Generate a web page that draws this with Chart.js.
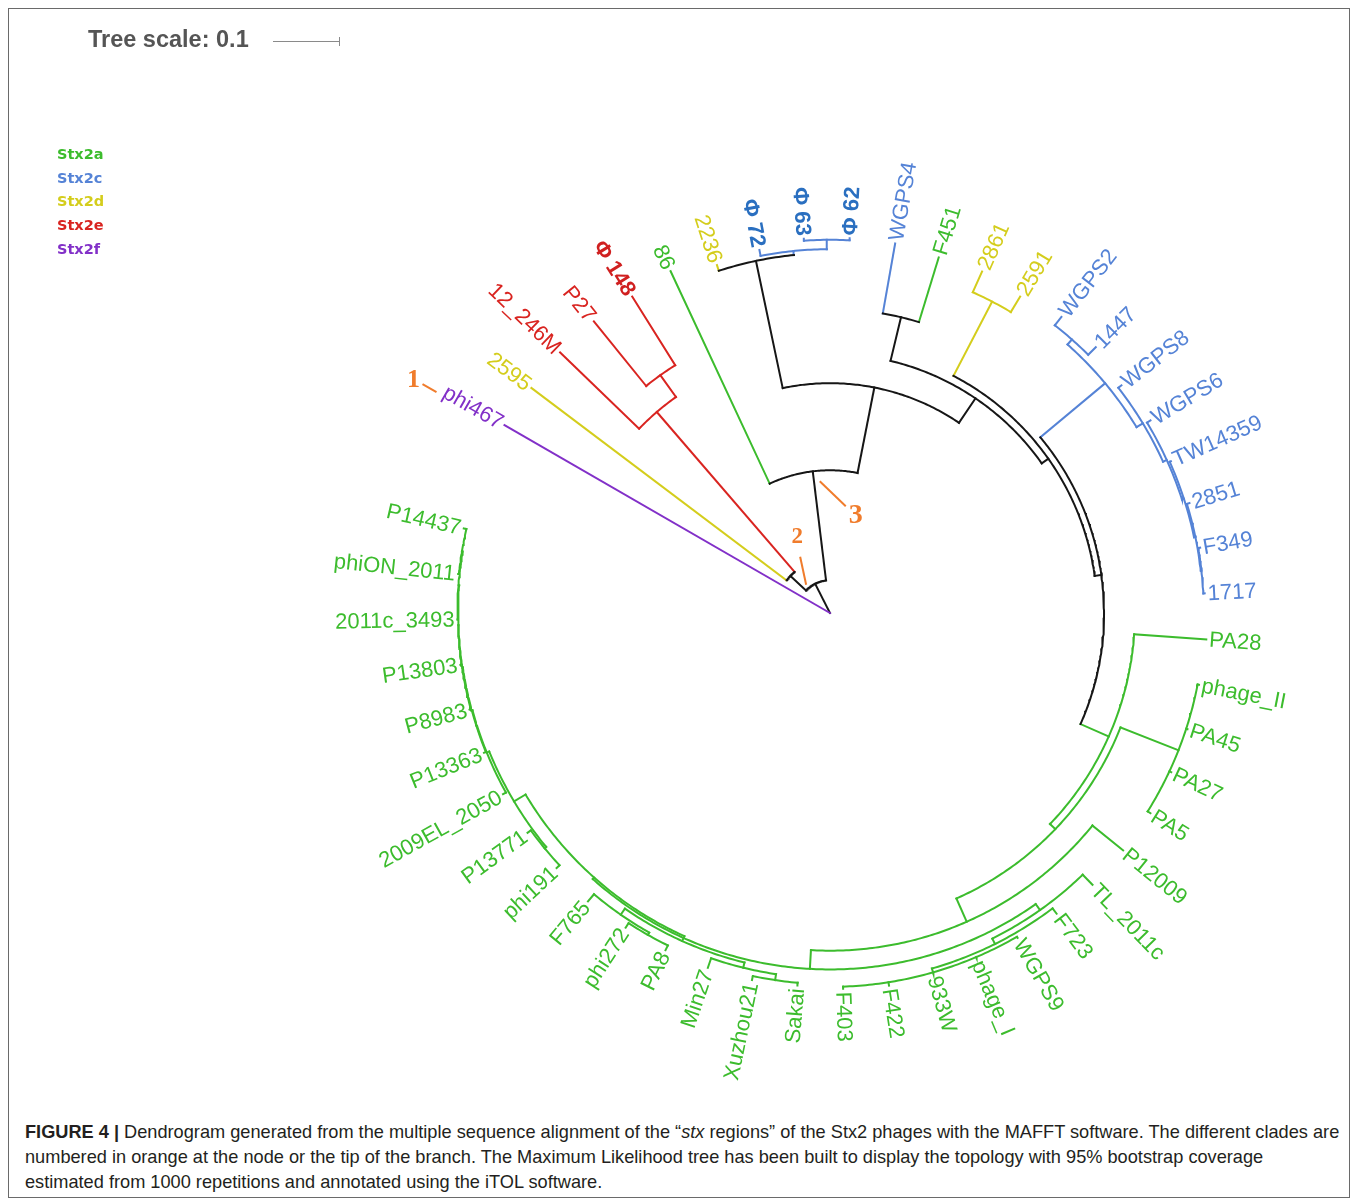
<!DOCTYPE html>
<html>
<head>
<meta charset="utf-8">
<script src="https://cdn.jsdelivr.net/npm/chart.js@4.4.1/dist/chart.umd.min.js"></script>
<style>
  html, body { margin: 0; padding: 0; background: #fff; }
  #fig { position: relative; width: 1358px; height: 1199px; overflow: hidden; }
  #frame { position: absolute; left: 8px; top: 8px; width: 1342px; height: 1190px; border: 1.5px solid #6a6a6a; box-sizing: border-box; }
  #plot { position: absolute; left: 0; top: 0; }
  #caption { position: absolute; left: 25px; top: 1120px; font: 18.2px "Liberation Sans", Arial, sans-serif; line-height: 25px; color: #231f20; white-space: nowrap; }
  #caption b { font-weight: bold; }
</style>
</head>
<body>
<div id="fig">
  <div id="frame"></div>
  <canvas id="plot" width="1358" height="1100"></canvas>
  <div id="caption">
    <b>FIGURE 4 |</b> Dendrogram generated from the multiple sequence alignment of the “<i>stx</i> regions” of the Stx2 phages with the MAFFT software. The different clades are<br>
    numbered in orange at the node or the tip of the branch. The Maximum Likelihood tree has been built to display the topology with 95% bootstrap coverage<br>
    estimated from 1000 repetitions and annotated using the iTOL software.
  </div>
</div>
<script>
// ---- Leaves, in clockwise display order ----
const leafNames = ['phi467','2595','12_246M','P27','Φ 148','86','2236','Φ 72','Φ 63','Φ 62',
  'WGPS4','F451','2861','2591','WGPS2','1447','WGPS8','WGPS6','TW14359','2851',
  'F349','1717','PA28','phage_II','PA45','PA27','PA5','P12009','TL_2011c','F723',
  'WGPS9','phage_I','933W','F422','F403','Sakai','Xuzhou21','Min27','PA8','phi272',
  'F765','phi191','P13771','2009EL_2050','P13363','P8983','P13803','2011c_3493','phiON_2011','P14437'];

const leafClade = ['Stx2f','Stx2d','Stx2e','Stx2e','Stx2e','Stx2a','Stx2d','Stx2c','Stx2c','Stx2c',
  'Stx2c','Stx2a','Stx2d','Stx2d','Stx2c','Stx2c','Stx2c','Stx2c','Stx2c','Stx2c',
  'Stx2c','Stx2c','Stx2a','Stx2a','Stx2a','Stx2a','Stx2a','Stx2a','Stx2a','Stx2a',
  'Stx2a','Stx2a','Stx2a','Stx2a','Stx2a','Stx2a','Stx2a','Stx2a','Stx2a','Stx2a',
  'Stx2a','Stx2a','Stx2a','Stx2a','Stx2a','Stx2a','Stx2a','Stx2a','Stx2a','Stx2a'];

// distance of each tip from the root (substitutions per site)
const leafDepth = [0.561,0.558,0.560,0.560,0.557,0.563,0.546,0.552,0.560,0.560,
  0.560,0.555,0.558,0.551,0.561,0.561,0.552,0.558,0.557,0.561,
  0.561,0.560,0.563,0.561,0.561,0.562,0.564,0.563,0.564,0.562,
  0.560,0.560,0.560,0.563,0.561,0.558,0.560,0.560,0.560,0.560,
  0.562,0.558,0.558,0.558,0.557,0.557,0.557,0.556,0.558,0.561];

// ---- Internal nodes ----
const nodeIds = ['root','A','B','C','D','E','F','G','I','J','H','L','K','M','N',
  'O','O1','O2','O3','O4','O5','O6','P','T','S','U','V','X','X2','Z',
  'Y','Y1','FG','FP','SG','SX','W','WA','WB','WC','WD','WE','WF','WG'];

const nodeChildren = [
  ['phi467','A'], ['B','E'], ['2595','C'], ['12_246M','D'], ['P27','Φ 148'],
  ['86','F'], ['G','H'], ['2236','I'], ['Φ 72','J'], ['Φ 63','Φ 62'],
  ['L','K'], ['WGPS4','F451'], ['M','N'], ['2861','2591'], ['O','P'],
  ['O1','O2'], ['WGPS2','1447'], ['WGPS8','O3'], ['WGPS6','O4'], ['TW14359','O5'],
  ['2851','O6'], ['F349','1717'], ['PA28','T'], ['S','U'], ['phage_II','PA45','PA27','PA5'],
  ['P12009','V'], ['X','Y'], ['TL_2011c','X2'], ['F723','Z'], ['WGPS9','phage_I','933W','F422','F403'],
  ['Y1','W'], ['SG','FG'], ['FP','F765'], ['PA8','phi272'], ['SX','Min27'],
  ['Sakai','Xuzhou21'], ['WA','WB'], ['phi191','P13771'], ['2009EL_2050','WC'], ['P13363','WD'],
  ['P8983','WE'], ['P13803','WF'], ['2011c_3493','WG'], ['phiON_2011','P14437']
];

const nodeDepth = [0.000,0.049,0.081,0.396,0.436,0.213,0.343,0.537,0.543,0.557,
  0.387,0.454,0.399,0.524,0.409,
  0.535,0.545,0.546,0.552,0.555,0.557,0.558,0.455,0.466,0.559,
  0.504,0.532,0.543,0.552,0.558,
  0.529,0.537,0.548,0.552,0.545,0.554,0.549,0.552,0.553,0.554,
  0.555,0.555,0.556,0.557];

// ---- Legend / clade colours ----
const cladeNames = ['Stx2a','Stx2c','Stx2d','Stx2e','Stx2f'];
const cladeColors = ['#3cbc2d','#5583d6','#d4cd1c','#d92420','#8230c8'];

// clade numbers shown in orange: anchor element and offsets (px)
const cladeMarks = [
  { text: '1', anchor: 'phi467', size: 26, tx: -91, ty: -45, line: [-82, -41, -68, -33] },
  { text: '2', anchor: 'A',      size: 23, tx: -18, ty: -47, line: [-15, -27, -9, 1] },
  { text: '3', anchor: 'E',      size: 28, tx: 43,  ty: 44,  line: [7, 10, 33, 35] }
];

const treeScaleValue = 0.1;

// ---- layout ----
const PX_PER_UNIT = 670;          // canvas pixels per branch-length unit
const ROOT_PX = { x: 830, y: 613 }; // root position on the canvas
const CANVAS = { w: 1358, h: 1100 };
const START_ANGLE = 210, STEP_ANGLE = 7; // clockwise degrees from east

const byId = {};
leafNames.forEach((n, i) => { byId[n] = { leaf: true, idx: i, depth: leafDepth[i], clade: leafClade[i] }; });
nodeIds.forEach((id, i) => { byId[id] = { leaf: false, children: nodeChildren[i], depth: nodeDepth[i] }; });

function angleOf(id) {
  const n = byId[id];
  if (n.angle !== undefined) return n.angle;
  if (n.leaf) n.angle = START_ANGLE + n.idx * STEP_ANGLE;
  else {
    const a = n.children.map(angleOf);
    n.angle = (Math.min(...a) + Math.max(...a)) / 2;
  }
  return n.angle;
}
function cladeOf(id) {
  const n = byId[id];
  if (n.cl !== undefined) return n.cl;
  if (n.leaf) n.cl = n.clade;
  else {
    const cs = n.children.map(cladeOf);
    n.cl = cs.every(c => c && c === cs[0]) ? cs[0] : null;
  }
  return n.cl;
}
function colorOf(id) {
  const c = cladeOf(id);
  return c ? cladeColors[cladeNames.indexOf(c)] : '#161616';
}
function polar(r, deg) {
  const t = deg * Math.PI / 180;
  return { x: r * Math.cos(t), y: -r * Math.sin(t) };
}

const datasets = [];
function addLine(points, color) {
  datasets.push({
    data: points, showLine: true, borderColor: color, backgroundColor: color,
    borderWidth: 2, pointRadius: 0, pointHoverRadius: 0, fill: false, tension: 0,
    borderCapStyle: 'square', borderJoinStyle: 'miter', clip: false
  });
}
nodeIds.forEach(id => {
  const n = byId[id];
  const angs = n.children.map(angleOf);
  const a0 = Math.min(...angs), a1 = Math.max(...angs);
  if (n.depth > 0) {
    const pts = [];
    const steps = Math.max(2, Math.ceil((a1 - a0) / 0.5));
    for (let k = 0; k <= steps; k++) pts.push(polar(n.depth, a0 + (a1 - a0) * k / steps));
    addLine(pts, colorOf(id));
  }
  n.children.forEach(c => {
    const a = angleOf(c);
    addLine([polar(n.depth, a), polar(byId[c].depth, a)], colorOf(c));
  });
});

const xMin = -ROOT_PX.x / PX_PER_UNIT, xMax = (CANVAS.w - ROOT_PX.x) / PX_PER_UNIT;
const yMax = ROOT_PX.y / PX_PER_UNIT, yMin = -(CANVAS.h - ROOT_PX.y) / PX_PER_UNIT;

function pixelOf(chart, id) {
  const n = byId[id];
  const p = polar(n.depth, angleOf(id));
  return { x: chart.scales.x.getPixelForValue(p.x), y: chart.scales.y.getPixelForValue(p.y) };
}

const decorations = {
  id: 'treeDecorations',
  afterDatasetsDraw(chart) {
    const ctx = chart.ctx;
    // leaf labels, written along the radius
    leafNames.forEach((name, i) => {
      const p = pixelOf(chart, name);
      const a = ((angleOf(name) % 360) + 360) % 360;
      const col = cladeColors[cladeNames.indexOf(leafClade[i])];
      const phi = name.startsWith('Φ');
      ctx.save();
      ctx.translate(p.x, p.y);
      ctx.fillStyle = phi ? (leafClade[i] === 'Stx2c' ? '#2a6fc0' : '#d02020') : col;
      ctx.font = (phi ? 'bold ' : '') + '22px "Liberation Sans", Arial, sans-serif';
      ctx.textBaseline = 'middle';
      if (a > 90 && a < 270) {
        ctx.rotate((a + 180) * Math.PI / 180);
        ctx.textAlign = 'right';
        ctx.fillText(name, -3, 1);
      } else {
        ctx.rotate(a * Math.PI / 180);
        ctx.textAlign = 'left';
        ctx.fillText(name, 3, 1);
      }
      ctx.restore();
    });

    // clade numbers
    cladeMarks.forEach(m => {
      const p = pixelOf(chart, m.anchor);
      ctx.save();
      ctx.strokeStyle = '#f07c2c';
      ctx.fillStyle = '#f07c2c';
      ctx.lineWidth = 2;
      ctx.beginPath();
      ctx.moveTo(p.x + m.line[0], p.y + m.line[1]);
      ctx.lineTo(p.x + m.line[2], p.y + m.line[3]);
      ctx.stroke();
      ctx.font = 'bold ' + m.size + 'px "Liberation Serif", "Times New Roman", serif';
      ctx.textAlign = 'center';
      ctx.textBaseline = 'middle';
      ctx.fillText(m.text, p.x + m.tx, p.y + m.ty);
      ctx.restore();
    });

    // tree scale
    ctx.save();
    ctx.font = 'bold 23.5px "Liberation Sans", Arial, sans-serif';
    ctx.fillStyle = '#555';
    ctx.textBaseline = 'middle';
    ctx.textAlign = 'left';
    ctx.fillText('Tree scale: ' + treeScaleValue, 88, 41);
    const len = chart.scales.x.getPixelForValue(treeScaleValue) - chart.scales.x.getPixelForValue(0);
    ctx.strokeStyle = '#8a8a8a';
    ctx.lineWidth = 1;
    ctx.beginPath();
    ctx.moveTo(273, 41.5); ctx.lineTo(273 + len, 41.5);
    ctx.moveTo(273 + len - 0.5, 37); ctx.lineTo(273 + len - 0.5, 46);
    ctx.stroke();
    ctx.restore();

    // clade legend
    ctx.save();
    ctx.font = 'bold 14.5px "DejaVu Sans", Verdana, sans-serif';
    ctx.textBaseline = 'middle';
    ctx.textAlign = 'left';
    cladeNames.forEach((c, i) => {
      ctx.fillStyle = cladeColors[i];
      ctx.fillText(c, 57, 155 + i * 23.8);
    });
    ctx.restore();
  }
};

new Chart(document.getElementById('plot'), {
  type: 'scatter',
  data: { datasets },
  options: {
    responsive: false,
    animation: false,
    devicePixelRatio: 1,
    layout: { padding: 0 },
    events: [],
    scales: {
      x: { type: 'linear', min: xMin, max: xMax, display: false },
      y: { type: 'linear', min: yMin, max: yMax, display: false }
    },
    plugins: { legend: { display: false }, tooltip: { enabled: false } }
  },
  plugins: [decorations]
});
</script>
</body>
</html>
